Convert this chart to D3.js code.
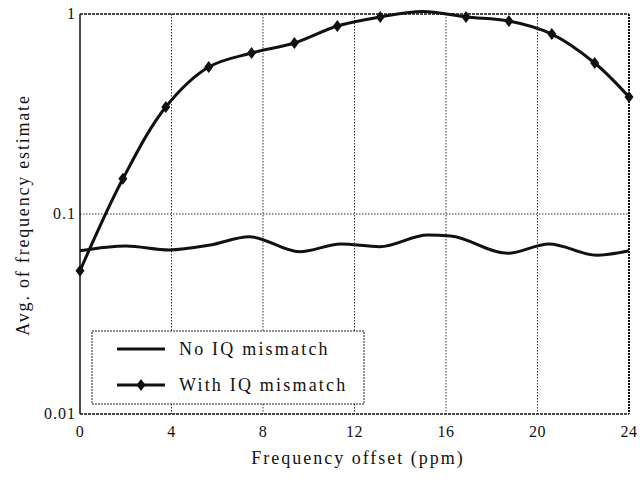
<!DOCTYPE html>
<html>
<head>
<meta charset="utf-8">
<script src="https://cdn.jsdelivr.net/npm/d3@7"></script>
<style>
  body { margin: 0; background: #fff; }
  svg text { font-family: "Liberation Serif", serif; fill: #111; }
</style>
</head>
<body>
<svg width="643" height="479"></svg>
<script>
// No IQ mismatch (smooth wavy curve, read at its turning points)
var noIQX = [0, 2.0, 3.9, 5.7, 7.4, 9.6, 11.4, 13.1, 15.2, 16.2, 18.7, 20.5, 22.6, 24];
var noIQY = [0.0655, 0.0692, 0.0661, 0.0700, 0.0770, 0.0648, 0.0708, 0.0686, 0.0785, 0.0776, 0.0636, 0.0708, 0.0622, 0.0655];

// With IQ mismatch (markers every ~1.875 ppm, no marker at the peak)
var withIQX = [0, 1.875, 3.75, 5.625, 7.5, 9.375, 11.25, 13.125, 15.0, 16.875, 18.75, 20.625, 22.5, 24];
var withIQY = [0.052, 0.150, 0.343, 0.543, 0.638, 0.716, 0.871, 0.966, 1.03, 0.966, 0.923, 0.794, 0.569, 0.385];
var withIQMarker = [1, 1, 1, 1, 1, 1, 1, 1, 0, 1, 1, 1, 1, 1];

var xTicks = [0, 4, 8, 12, 16, 20, 24];
var yTicks = [0.01, 0.1, 1];
var yTickLabels = ["0.01", "0.1", "1"];
var seriesNames = ["No IQ mismatch", "With IQ mismatch"];

var svg = d3.select("svg");
var pLeft = 80, pRight = 629, pTop = 14, pBottom = 414;

var x = d3.scaleLinear().domain([0, 24]).range([pLeft, pRight]);
var y = d3.scaleLog().domain([0.01, 1]).range([pBottom, pTop]);

// grid
var grid = svg.append("g")
    .attr("stroke", "#333")
    .attr("stroke-width", 1)
    .attr("stroke-dasharray", "1.5,1.5");
grid.selectAll("line.vx")
    .data(xTicks.slice(1, -1))
    .enter().append("line")
    .attr("x1", d => x(d)).attr("x2", d => x(d))
    .attr("y1", pTop).attr("y2", pBottom);
grid.selectAll("line.hy")
    .data([0.1])
    .enter().append("line")
    .attr("x1", pLeft).attr("x2", pRight)
    .attr("y1", d => y(d)).attr("y2", d => y(d));

// frame
var frame = svg.append("g").attr("stroke", "#111").attr("fill", "none");
frame.append("line").attr("x1", pLeft).attr("x2", pLeft).attr("y1", pTop).attr("y2", pBottom).attr("stroke-width", 1.5);
frame.append("line").attr("x1", pLeft).attr("x2", pRight).attr("y1", pBottom).attr("y2", pBottom)
    .attr("stroke-width", 1.5).attr("stroke-dasharray", "3,1");
frame.append("line").attr("x1", pLeft).attr("x2", pRight).attr("y1", pTop).attr("y2", pTop)
    .attr("stroke-width", 1.5).attr("stroke-dasharray", "3,1");
frame.append("line").attr("x1", pRight).attr("x2", pRight).attr("y1", pTop).attr("y2", pBottom)
    .attr("stroke-width", 2).attr("stroke-dasharray", "2,1");

// tick labels
svg.selectAll("text.xt")
    .data(xTicks)
    .enter().append("text")
    .attr("x", d => x(d))
    .attr("y", 437)
    .attr("text-anchor", "middle")
    .style("font-size", "16px")
    .style("letter-spacing", "0.5px")
    .text(d => d);

svg.selectAll("text.yt")
    .data(yTicks)
    .enter().append("text")
    .attr("x", pLeft - 4)
    .attr("y", d => y(d) + 5)
    .attr("text-anchor", "end")
    .style("font-size", "16px")
    .style("letter-spacing", "1px")
    .text((d, i) => yTickLabels[i]);

// axis titles
svg.append("text")
    .attr("x", 358)
    .attr("y", 464)
    .attr("text-anchor", "middle")
    .style("font-size", "18px")
    .style("letter-spacing", "2px")
    .text("Frequency offset (ppm)");

svg.append("text")
    .attr("transform", "translate(29," + 215 + ") rotate(-90)")
    .attr("text-anchor", "middle")
    .style("font-size", "18px")
    .style("letter-spacing", "1.8px")
    .text("Avg. of frequency estimate");

// curves
var noIQ = noIQX.map((d, i) => [d, noIQY[i]]);
var withIQ = withIQX.map((d, i) => [d, withIQY[i], withIQMarker[i]]);

var line = d3.line()
    .x(d => x(d[0]))
    .y(d => y(d[1]))
    .curve(d3.curveMonotoneX);

svg.append("path")
    .datum(noIQ)
    .attr("d", line)
    .attr("fill", "none")
    .attr("stroke", "#111")
    .attr("stroke-width", 3);

svg.append("path")
    .datum(withIQ)
    .attr("d", line.curve(d3.curveCatmullRom.alpha(0.5)))
    .attr("fill", "none")
    .attr("stroke", "#111")
    .attr("stroke-width", 3);

var diamond = "M0,-6L4.5,0L0,6L-4.5,0Z";
svg.selectAll("path.mk")
    .data(withIQ.filter(d => d[2]))
    .enter().append("path")
    .attr("d", diamond)
    .attr("transform", d => "translate(" + x(d[0]) + "," + y(d[1]) + ")")
    .attr("fill", "#111");

// legend
var legend = svg.append("g");
legend.append("rect")
    .attr("x", 92).attr("y", 331)
    .attr("width", 272).attr("height", 73)
    .attr("fill", "#fff")
    .attr("stroke", "#222")
    .attr("stroke-width", 1)
    .attr("stroke-dasharray", "2,1");

var items = legend.selectAll("g.item")
    .data(seriesNames)
    .enter().append("g")
    .attr("transform", (d, i) => "translate(0," + (349 + i * 36) + ")");

items.append("line")
    .attr("x1", 117).attr("x2", 165)
    .attr("y1", 0).attr("y2", 0)
    .attr("stroke", "#111")
    .attr("stroke-width", 3);

items.filter((d, i) => i === 1).append("path")
    .attr("d", diamond)
    .attr("transform", "translate(141,0)")
    .attr("fill", "#111");

items.append("text")
    .attr("x", 179)
    .attr("y", 6)
    .style("font-size", "18px")
    .style("letter-spacing", "2.2px")
    .text(d => d);
</script>
</body>
</html>
